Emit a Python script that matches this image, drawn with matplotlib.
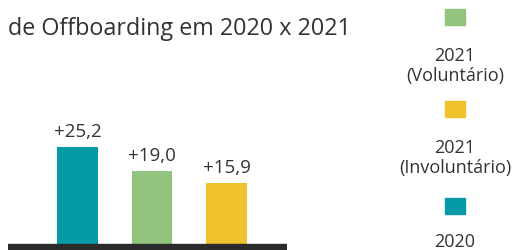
import matplotlib
matplotlib.use("Agg")
import matplotlib.pyplot as plt
from matplotlib.patches import Rectangle

plt.rcParams['font.family'] = ['Open Sans', 'DejaVu Sans']

categories = ['2020', '2021 (Voluntário)', '2021 (Involuntário)']
values = [25.2, 19.0, 15.9]
value_labels = ['+25,2', '+19,0', '+15,9']
colors = ['#069aa7', '#93c47d', '#f0c22e']

legend_labels = ['2021\n(Voluntário)', '2021\n(Involuntário)', '2020']
legend_colors = ['#93c47d', '#f0c22e', '#069aa7']

W, H = 513, 251
fig = plt.figure(figsize=(W / 100, H / 100), dpi=100)

# axes covers the black baseline band from x=8 to x=287 px, full height
ax = fig.add_axes([8 / W, 0, 279 / W, 1])
k = 3.85  # px per unit
ax.set_xlim(-0.933, 2.812)
ax.set_ylim(-6 / k, (H - 6) / k)
ax.axis('off')

x = range(len(values))
ax.bar(x, values, width=0.55, color=colors)
ax.axhspan(-6 / k, 0, color='#2b2b2b')

for i, (v, lab) in enumerate(zip(values, value_labels)):
    ax.annotate(lab, (i, v), xytext=(0, 5), textcoords='offset points',
                ha='center', va='bottom', fontsize=13.5, color='#333333')

fig.text(8 / W, 1 - 29 / H, 'de Offboarding em 2020 x 2021', ha='left', va='center',
         fontsize=16.8, color='#333333')

# legend, drawn by hand to follow the vertical stacked layout
sq_tops = [10, 102, 199]
txt_centers = [66, 158, 242]
for lab, col, t, c in zip(legend_labels, legend_colors, sq_tops, txt_centers):
    fig.add_artist(Rectangle((445 / W, 1 - (t + 16) / H), 20 / W, 16 / H,
                             color=col, transform=fig.transFigure))
    fig.text(455 / W, 1 - c / H, lab, ha='center', va='center', fontsize=13,
             color='#333333', linespacing=1.2)

fig.savefig('out.png', dpi=100)
